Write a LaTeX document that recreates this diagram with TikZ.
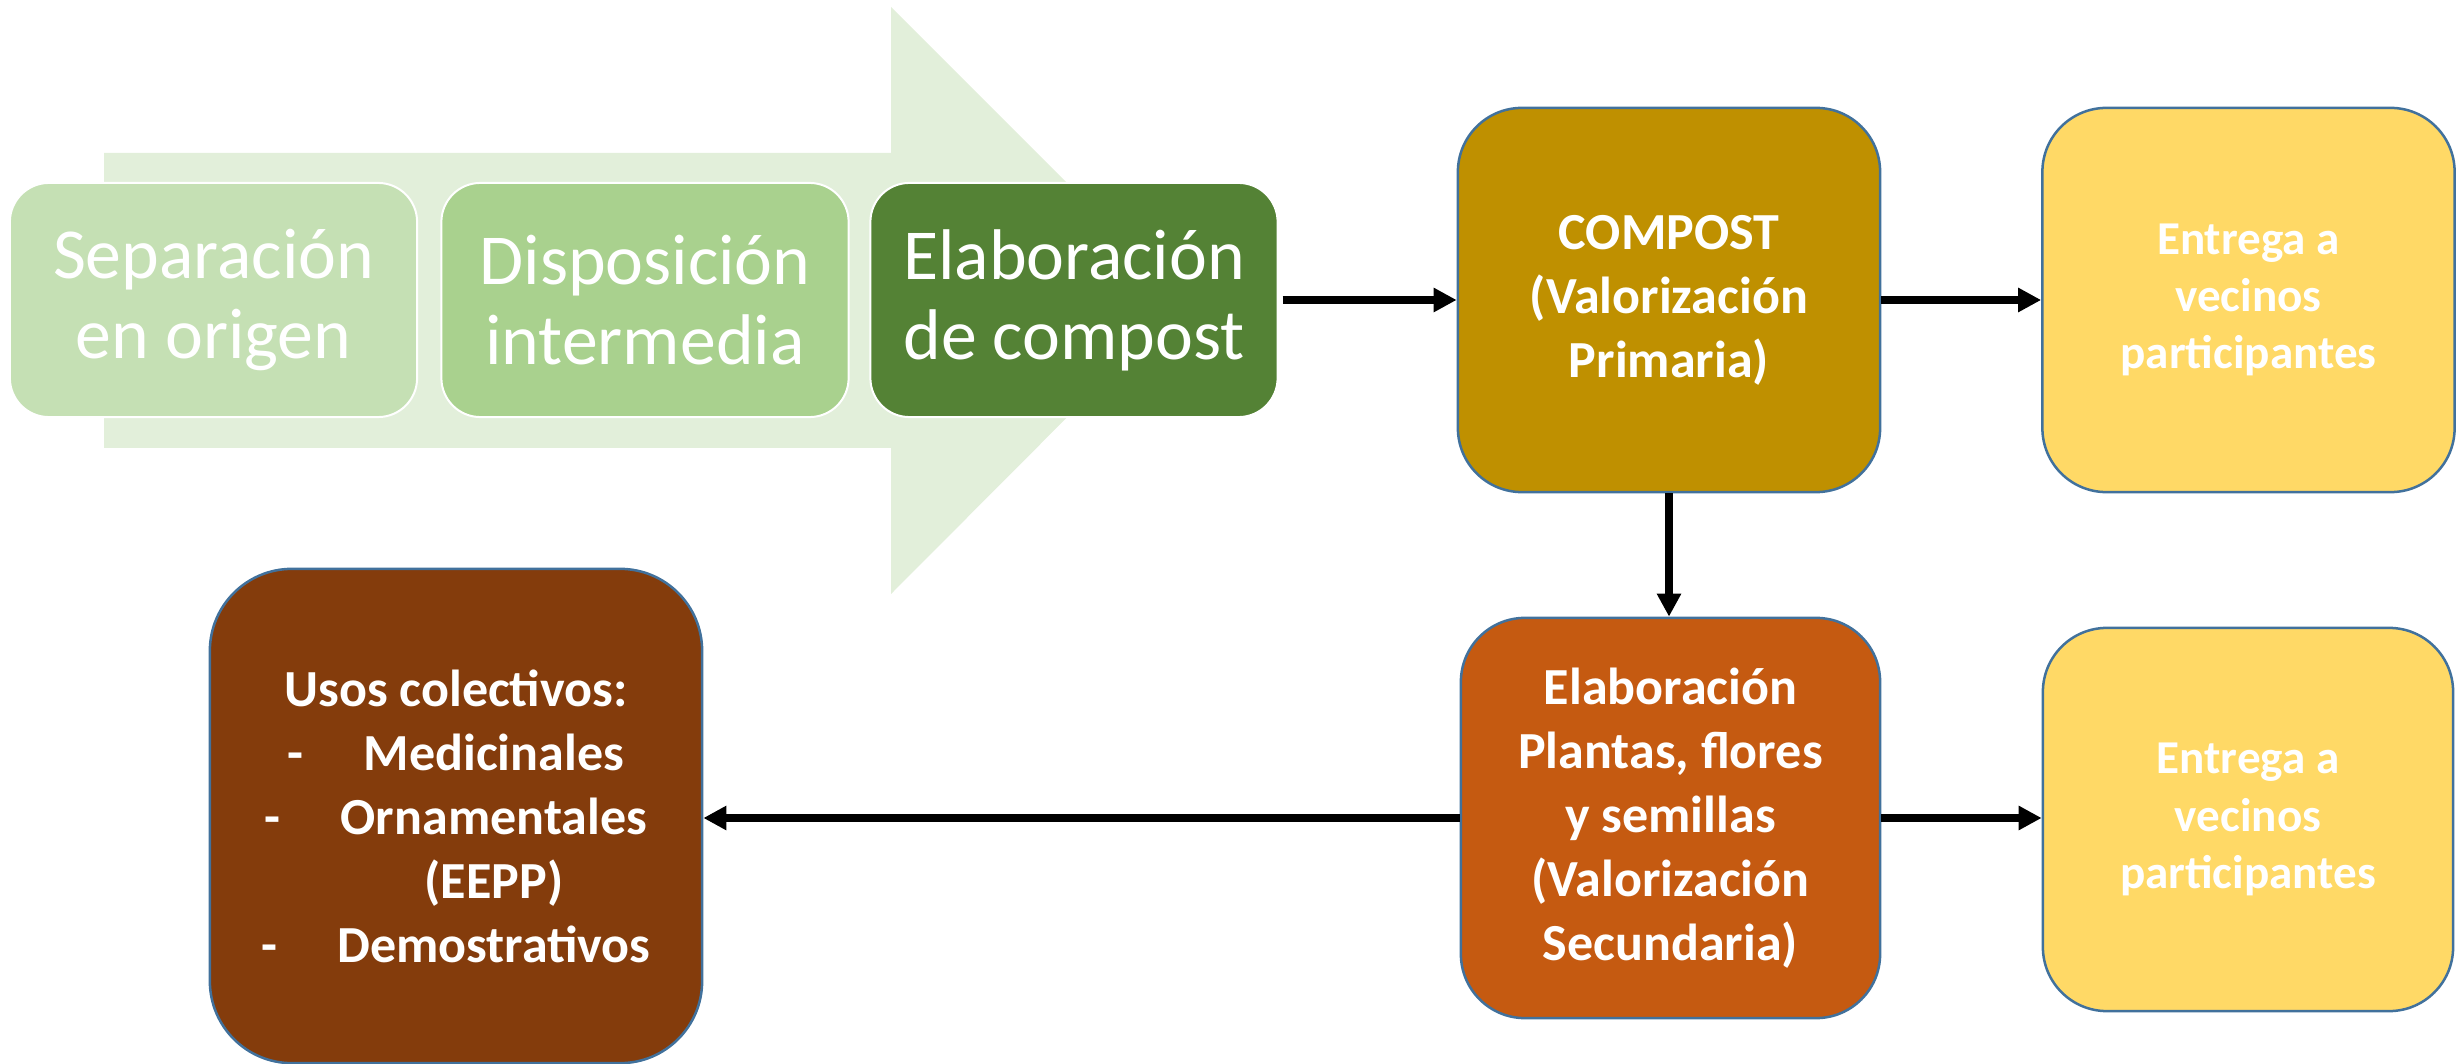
\documentclass[tikz,border=0pt]{standalone}
\usepackage{fontspec}
\setmainfont{Carlito}
\usepackage{tikz}
\usetikzlibrary{arrows.meta}
\usetikzlibrary{positioning}
\definecolor{fondoflecha}{HTML}{E2EFDA}
\definecolor{verdeuno}{HTML}{C5E0B4}
\definecolor{verdedos}{HTML}{A9D18E}
\definecolor{verdetres}{HTML}{548235}
\definecolor{ocre}{HTML}{BF9000}
\definecolor{amarillo}{HTML}{FFD966}
\definecolor{naranja}{HTML}{C55A11}
\definecolor{marron}{HTML}{843C0C}
\definecolor{bordeazul}{HTML}{41719C}
\tikzset{
    etapa/.style={draw=white, line width=0.02cm, rounded corners=0.39cm,
        minimum width=4.07cm, minimum height=2.34cm, inner sep=0pt,
        align=center, text=white, font=\fontsize{20.4pt}{22.8pt}\selectfont},
    caja/.style={draw=bordeazul, line width=0.025cm, rounded corners=0.64cm,
        inner sep=0pt, align=center, text=white,
        font=\bfseries\fontsize{14.8pt}{18.2pt}\selectfont},
    entrega/.style={caja, fill=amarillo, minimum width=4.12cm, minimum height=3.84cm,
        font=\bfseries\fontsize{13.4pt}{16.3pt}\selectfont},
    flecha/.style={draw=black, line width=0.08cm,
        -{Triangle[length=0.23cm,width=0.23cm]}},
}

\begin{document}
\begin{tikzpicture}[x=0.01cm, y=-0.01cm]
		\useasboundingbox (0,0) rectangle (2463,1064);
		% flecha de fondo
		\fill[fondoflecha] (104,153) -- (891,153) -- (891,7) -- (1184,300)
			-- (891,594) -- (891,448) -- (104,448) -- cycle;
		\node[etapa, fill=verdeuno] (separacion) at (213.5,300) {Separación\\en origen};
		\node[etapa, fill=verdedos] (disposicion) at (645,300) {Disposición\\intermedia};
		\node[etapa, fill=verdetres] (elaboracion) at (1074,300) {Elaboración\\de compost};
		\node[caja, fill=ocre, minimum width=4.22cm, minimum height=3.84cm] (compost) at (1669,300)
			{COMPOST\\(Valorización\\Primaria)};
		\node[entrega] (entregauno) at (2248.5,300) {Entrega a\\vecinos\\participantes};
		\node[caja, fill=naranja, minimum width=4.19cm, minimum height=4.0cm] (plantas) at (1670.5,818)
			{Elaboración\\Plantas, flores\\y semillas\\(Valorización\\Secundaria)};
		\node[entrega, minimum width=4.10cm, minimum height=3.83cm] (entregados) at (2248,819.5)
			{Entrega a\\vecinos\\participantes};
		\node[caja, fill=marron, rounded corners=0.82cm, minimum width=4.92cm, minimum height=4.94cm] (usos) at (456,816)
			{Usos colectivos:\\
			-\hspace{0.6cm}Medicinales\\
			-\hspace{0.6cm}Ornamentales\\
			\phantom{-}\hspace{0.6cm}(EEPP)\\
			-\hspace{0.6cm}Demostrativos};
		\draw[flecha] ([xshift=0.04cm]elaboracion.east) -- (compost.west);
		\draw[flecha] (compost.east) -- (compost.east -| entregauno.west);
		\draw[flecha] (compost.south) -- (compost.south |- plantas.north);
		\draw[flecha] (plantas.east) -- (plantas.east -| entregados.west);
		\draw[flecha] (plantas.west) -- (plantas.west -| usos.east);
\end{tikzpicture}
\end{document}
